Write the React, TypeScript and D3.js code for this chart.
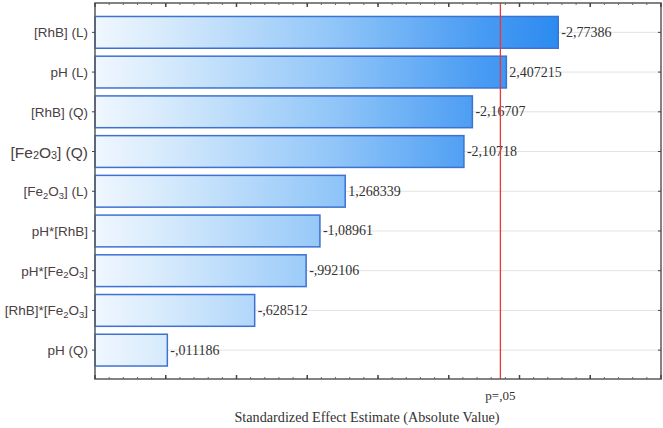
import React from "react";
import * as d3 from "d3";

const categories = [
  "[RhB] (L)",
  "pH (L)",
  "[RhB] (Q)",
  "[Fe2O3] (Q)",
  "[Fe2O3] (L)",
  "pH*[RhB]",
  "pH*[Fe2O3]",
  "[RhB]*[Fe2O3]",
  "pH (Q)",
];
const effects = [2.77386, 2.407215, 2.16707, 2.10718, 1.268339, 1.08961, 0.992106, 0.628512, 0.011186];
const valueLabels = ["-2,77386", "2,407215", "-2,16707", "-2,10718", "1,268339", "-1,08961", "-,992106", "-,628512", "-,011186"];
const pCritical = 2.365;
const pLabel = "p=,05";
const xTicksMajor = [-0.5, 0, 0.5, 1, 1.5, 2, 2.5, 3, 3.5];

const W = 663;
const H = 428;
const plot = { left: 95, right: 661, top: 3, bottom: 379 };

function CatLabel({ text, x, y, big }: { text: string; x: number; y: number; big?: boolean }) {
  const fs = big ? 15.5 : 13.5;
  const sub = fs * 0.7;
  const d = 3.5;
  const parts = text.split(/(Fe2O3)/).filter((p) => p.length > 0);
  const nodes: React.ReactNode[] = [];
  let pendingUp = false;
  parts.forEach((p, i) => {
    if (p === "Fe2O3") {
      nodes.push(<tspan key={i + "a"} dy={pendingUp ? -d : 0}>Fe</tspan>);
      nodes.push(<tspan key={i + "b"} fontSize={sub} dy={d}>2</tspan>);
      nodes.push(<tspan key={i + "c"} dy={-d}>O</tspan>);
      nodes.push(<tspan key={i + "d"} fontSize={sub} dy={d}>3</tspan>);
      pendingUp = true;
    } else {
      nodes.push(<tspan key={i + "t"} dy={pendingUp ? -d : 0}>{p}</tspan>);
      pendingUp = false;
    }
  });
  return (
    <text x={x} y={y} textAnchor="end" dominantBaseline="central" fontFamily="Liberation Sans, Arial, sans-serif" fontSize={fs} fill="#4a4040">
      {nodes}
    </text>
  );
}

export default function App() {
  const x = d3.scaleLinear().domain([-0.5, 3.5]).range([plot.left, plot.right]);
  const y = d3.scaleBand<string>().domain(categories).range([12.5, 370]).paddingInner(0.2).paddingOuter(0.1);
  const minorTicks = d3.range(-0.5, 3.5001, 0.1);
  const bw = y.bandwidth();

  return (
    <svg width={W} height={H} style={{ position: "absolute", left: 0, top: 0, background: "#fff" }}>
      <defs>
        <linearGradient id="barGrad" gradientUnits="userSpaceOnUse" x1={plot.left} x2={x(2.8)} y1={0} y2={0}>
          <stop offset="0" stopColor="#f0f7fe" />
          <stop offset="0.15" stopColor="#d6eafc" />
          <stop offset="0.5" stopColor="#93c7f8" />
          <stop offset="0.82" stopColor="#4a9cf3" />
          <stop offset="1" stopColor="#2a8af0" />
        </linearGradient>
      </defs>
      {categories.map((c) => (
        <line key={"g" + c} x1={plot.left} x2={plot.right} y1={y(c)! + bw / 2} y2={y(c)! + bw / 2} stroke="#e2e2e2" strokeWidth={1} />
      ))}
      {categories.map((c, i) => (
        <rect
          key={"b" + c}
          x={plot.left}
          y={y(c)!}
          width={x(effects[i]) - plot.left}
          height={bw}
          fill="url(#barGrad)"
          stroke="#3d72d2"
          strokeWidth={1.5}
        />
      ))}
      {categories.map((c, i) => (
        <text
          key={"v" + c}
          x={x(effects[i]) + 3}
          y={y(c)! + bw / 2}
          dominantBaseline="central"
          fontFamily="Liberation Serif, Times New Roman, serif"
          fontSize={14}
          fill="#333"
        >
          {valueLabels[i]}
        </text>
      ))}
      <line x1={x(pCritical)} x2={x(pCritical)} y1={plot.top} y2={plot.bottom} stroke="#e8383a" strokeWidth={1.3} />
      <rect x={plot.left} y={plot.top} width={plot.right - plot.left} height={plot.bottom - plot.top} fill="none" stroke="#5a5a5a" strokeWidth={1.5} />
      {minorTicks.map((t, i) => (
        <g key={"m" + i}>
          <line x1={x(t)} x2={x(t)} y1={plot.top} y2={plot.top + 2} stroke="#666" strokeWidth={1} />
          <line x1={x(t)} x2={x(t)} y1={plot.bottom} y2={plot.bottom - 2} stroke="#666" strokeWidth={1} />
        </g>
      ))}
      {xTicksMajor.map((t, i) => (
        <g key={"M" + i}>
          <line x1={x(t)} x2={x(t)} y1={plot.top} y2={plot.top + 4} stroke="#444" strokeWidth={1.5} />
          <line x1={x(t)} x2={x(t)} y1={plot.bottom} y2={plot.bottom - 4} stroke="#444" strokeWidth={1.5} />
        </g>
      ))}
      {categories.map((c) => (
        <g key={"t" + c}>
          <line x1={plot.left - 3} x2={plot.left} y1={y(c)! + bw / 2} y2={y(c)! + bw / 2} stroke="#444" strokeWidth={1} />
          <line x1={plot.right - 3} x2={plot.right} y1={y(c)! + bw / 2} y2={y(c)! + bw / 2} stroke="#444" strokeWidth={1} />
        </g>
      ))}
      {categories.map((c) => (
        <CatLabel key={"c" + c} text={c} x={88} y={y(c)! + bw / 2} big={c === "[Fe2O3] (Q)"} />
      ))}
      <text x={x(pCritical)} y={395} textAnchor="middle" dominantBaseline="central" fontFamily="Liberation Serif, Times New Roman, serif" fontSize={13} fill="#333">
        {pLabel}
      </text>
      <text x={367} y={417} textAnchor="middle" dominantBaseline="central" fontFamily="Liberation Serif, Times New Roman, serif" fontSize={14.2} fill="#333">
        Standardized Effect Estimate (Absolute Value)
      </text>
    </svg>
  );
}
